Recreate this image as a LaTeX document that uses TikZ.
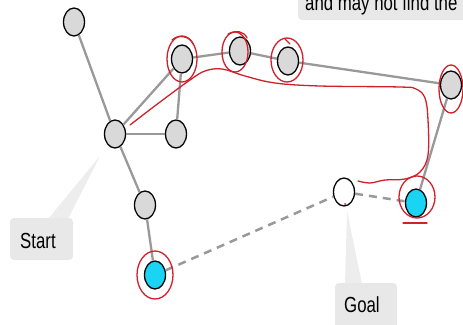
\documentclass[tikz,border=0pt]{standalone}
\usepackage{fontspec}
\setmainfont{Liberation Sans}
\usetikzlibrary{shapes.geometric}
\definecolor{nodegray}{HTML}{D9D9D9}
\definecolor{cyanfill}{HTML}{19D4F2}
\definecolor{edgegray}{HTML}{999999}
\definecolor{boxgray}{HTML}{E8E8E8}
\definecolor{penred}{HTML}{D0202A}
\tikzset{
  vert/.style={ellipse, draw=black, line width=1.3pt, fill=nodegray, inner sep=0pt, minimum width=21pt, minimum height=28pt},
  cyanvert/.style={vert, fill=cyanfill},
  whitevert/.style={vert, fill=white},
  edge/.style={draw=edgegray, line width=2.3pt},
  dashedge/.style={draw=edgegray, line width=2.5pt, dash pattern=on 8pt off 6pt},
  callout/.style={fill=boxgray, rounded corners=4pt},
  pointer/.style={fill=boxgray!80!white},
  pen/.style={draw=penred, line width=1.3pt, line cap=round, line join=round},
  lbl/.style={font=\fontsize{16.8}{20}\selectfont, inner sep=0pt, anchor=base west}
}
\begin{document}
\begin{tikzpicture}[x=1pt, y=-1pt]
\useasboundingbox (0,0) rectangle (463,324);
\clip (0,0) rectangle (463,324);
% callouts
\fill[callout] (298,-10) rectangle (470,20);
\node[lbl] (toptext) at (305,10) {\scalebox{1}[1.3]{and may not find the}};
\fill[pointer] (48,219) -- (100,156) -- (68,219) -- cycle;
\fill[callout] (10,218) rectangle (73,260);
\node[lbl] (starttext) at (20,248) {\scalebox{1}[1.3]{Start}};
\fill[pointer] (345,284) -- (347,211) -- (362,284) -- cycle;
\fill[callout] (335,283) rectangle (397,330);
\node[lbl] (goaltext) at (344,312) {\scalebox{1}[1.3]{Goal}};
% vertices
\node[vert] (A) at (74,22) {};
\node[vert] (B) at (115,134) {};
\node[vert] (C) at (182,59) {};
\node[vert] (D) at (176,134) {};
\node[vert] (E) at (240,51) {};
\node[vert] (F) at (288,61) {};
\node[vert] (G) at (451,85) {};
\node[vert] (H) at (145,205) {};
\node[cyanvert] (I) at (155,275) {};
\node[whitevert] (J) at (344,192) {};
\node[cyanvert] (K) at (416,203) {};
% edges
\draw[edge] (A) -- (B);
\draw[edge] (B) -- (C);
\draw[edge] (B) -- (D);
\draw[edge] (C) -- (D);
\draw[edge] (C) -- (E);
\draw[edge] (E) -- (F);
\draw[edge] (F) -- (G);
\draw[edge] (G) -- (K);
\draw[edge] (B) -- (H);
\draw[edge] (H) -- (I);
\draw[dashedge] (I) -- (J);
\draw[dashedge] (J) -- (K);
% red annotations
\draw[pen] (182,59) ellipse[x radius=15, y radius=23];
\draw[pen] (172,40) .. controls (178,34) and (190,36) .. (193,44);
\draw[pen] (235,52) ellipse[x radius=13, y radius=20];
\draw[pen] (228,34) .. controls (236,30) and (244,31) .. (247,38);
\draw[pen] (287,60) ellipse[x radius=16, y radius=22];
\draw[pen] (285,39) -- (290,44);
\draw[pen] (451,89) ellipse[x radius=12, y radius=24];
\draw[pen] (155,275) ellipse[x radius=18, y radius=24];
\draw[pen] (417,197) ellipse[x radius=18, y radius=21];
\draw[pen] (403,223) -- (427,223);
\fill[penred] (345,204) circle[radius=1];
\draw[pen] plot[smooth, tension=0.6] coordinates {(130,125) (160,102) (190,80) (205,71) (222,69) (245,76) (275,83) (320,86) (400,87) (416,89) (425,98) (428,120) (428,155) (420,172) (405,179) (385,180) (370,183) (358,181)};
\end{tikzpicture}
\end{document}
